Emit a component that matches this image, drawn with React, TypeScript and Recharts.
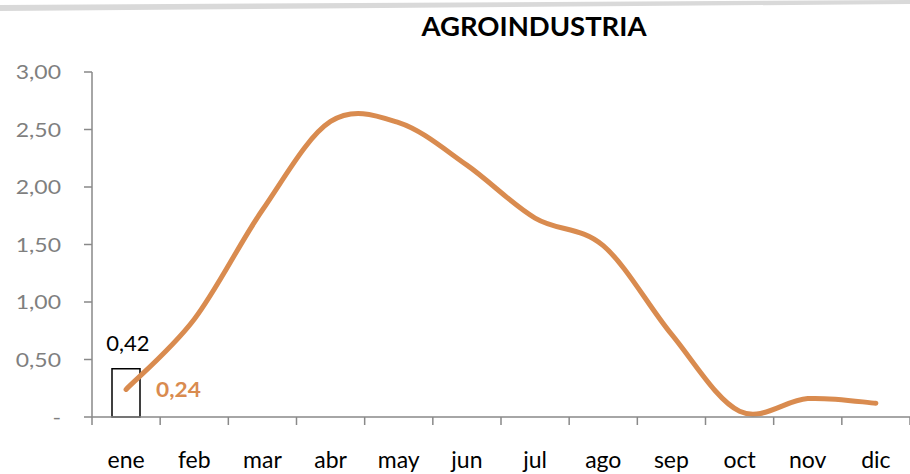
import React from "react";
import {
  Bar,
  ComposedChart,
  LabelList,
  Line,
  XAxis,
  YAxis,
} from "recharts";

const MONTHS = ["ene", "feb", "mar", "abr", "may", "jun", "jul", "ago", "sep", "oct", "nov", "dic"];
const LINE_VALUES = [0.24, 0.85, 1.8, 2.57, 2.56, 2.19, 1.73, 1.49, 0.72, 0.05, 0.16, 0.12];
const BAR_VALUES: (number | null)[] = [0.42, null, null, null, null, null, null, null, null, null, null, null];
const Y_TICKS = [0, 0.5, 1, 1.5, 2, 2.5, 3];

const WIDTH = 910;
const HEIGHT = 474;
const AXIS_LEFT = 92;
const STEP = (WIDTH - AXIS_LEFT) / MONTHS.length;

const LINE_COLOR = "#D98B4F";
const AXIS_COLOR = "#898989";
const FONT = "Lato, 'Open Sans', sans-serif";

const data = MONTHS.map((month, i) => ({
  month,
  value: LINE_VALUES[i],
  bar: BAR_VALUES[i],
}));

const fmt = (v: number) => (v === 0 ? "-" : v.toFixed(2).replace(".", ","));

// Excel-style smoothing: cubic bezier with control points at +/- (next - prev) / 6
function excelCurve(context: any) {
  let pts: number[][] = [];
  return {
    areaStart() {},
    areaEnd() {},
    lineStart() {
      pts = [];
    },
    point(x: number, y: number) {
      pts.push([+x, +y]);
    },
    lineEnd() {
      if (!pts.length) return;
      context.moveTo(pts[0][0], pts[0][1]);
      for (let i = 0; i < pts.length - 1; i++) {
        const p0 = pts[i - 1] || pts[i];
        const p1 = pts[i];
        const p2 = pts[i + 1];
        const p3 = pts[i + 2] || pts[i + 1];
        context.bezierCurveTo(
          p1[0] + (p2[0] - p0[0]) / 6,
          p1[1] + (p2[1] - p0[1]) / 6,
          p2[0] - (p3[0] - p1[0]) / 6,
          p2[1] - (p3[1] - p1[1]) / 6,
          p2[0],
          p2[1]
        );
      }
    },
  };
}

function YTick({ x, y, payload }: any) {
  return (
    <text
      transform={`translate(${x},${y}) scale(1.15,1)`}
      textAnchor="end"
      dy="0.36em"
      fill="#7f7f7f"
      fontSize={20}
      fontFamily={FONT}
    >
      {fmt(payload.value)}
    </text>
  );
}

function XTick({ x, y, payload, index }: any) {
  const left = x - STEP / 2;
  return (
    <g>
      <line x1={left} x2={left} y1={y} y2={y + 8} stroke={AXIS_COLOR} strokeWidth={1.5} />
      {index === MONTHS.length - 1 && (
        <line x1={x + STEP / 2} x2={x + STEP / 2} y1={y} y2={y + 8} stroke={AXIS_COLOR} strokeWidth={1.5} />
      )}
      <text
        x={x}
        y={y + 51}
        textAnchor="middle"
        fill="#000"
        fontSize={23}
        fontFamily={FONT}
      >
        {payload.value}
      </text>
    </g>
  );
}

function LineLabel({ x, y, index, value }: any) {
  if (index !== 0) return null;
  return (
    <text
      transform={`translate(${x + 30},${y}) scale(1.08,1)`}
      dy="0.36em"
      fill={LINE_COLOR}
      fontSize={21}
      fontWeight="bold"
      fontFamily={FONT}
    >
      {fmt(value)}
    </text>
  );
}

function BarLabel({ x, y, width, value }: any) {
  if (value == null) return null;
  return (
    <text
      x={x + width / 2 + 2}
      y={y - 18}
      textAnchor="middle"
      fill="#000"
      fontSize={22}
      fontFamily={FONT}
    >
      {fmt(value)}
    </text>
  );
}

export default function App() {
  return (
    <div
      style={{
        position: "absolute",
        left: 0,
        top: 0,
        width: WIDTH,
        height: HEIGHT,
        background: "#fff",
        overflow: "hidden",
      }}
    >
      <svg width={WIDTH} height={HEIGHT} style={{ position: "absolute", left: 0, top: 0 }}>
        <polygon points="0,5 910,0 910,4 0,11" fill="#d9d9d9" />
        <text
          x={534}
          y={36}
          textAnchor="middle"
          fontFamily={FONT}
          fontWeight="bold"
          fontSize={27}
          textLength={225}
          lengthAdjust="spacingAndGlyphs"
          fill="#000"
        >
          AGROINDUSTRIA
        </text>
      </svg>
      <div style={{ position: "absolute", left: 0, top: 0 }}>
        <ComposedChart
          width={WIDTH}
          height={HEIGHT}
          data={data}
          margin={{ top: 72, right: 0, bottom: 0, left: 0 }}
          barCategoryGap={0}
        >
          <XAxis
            dataKey="month"
            height={57}
            axisLine={{ stroke: AXIS_COLOR, strokeWidth: 1.5 }}
            tickLine={false}
            tickSize={0}
            tickMargin={0}
            tick={<XTick />}
            interval={0}
          />
          <YAxis
            width={AXIS_LEFT}
            domain={[0, 3]}
            ticks={Y_TICKS}
            interval={0}
            axisLine={{ stroke: AXIS_COLOR, strokeWidth: 1.5 }}
            tickLine={{ stroke: AXIS_COLOR, strokeWidth: 1.5 }}
            tickSize={8}
            tickMargin={23}
            tick={<YTick />}
          />
          <Bar
            dataKey="bar"
            barSize={28}
            fill="#fff"
            stroke="#000"
            strokeWidth={1.5}
            isAnimationActive={false}
          >
            <LabelList dataKey="bar" content={<BarLabel />} />
          </Bar>
          <Line
            dataKey="value"
            type={excelCurve as any}
            stroke={LINE_COLOR}
            strokeWidth={5}
            strokeLinecap="round"
            dot={false}
            activeDot={false}
            isAnimationActive={false}
          >
            <LabelList dataKey="value" content={<LineLabel />} />
          </Line>
        </ComposedChart>
      </div>
    </div>
  );
}
